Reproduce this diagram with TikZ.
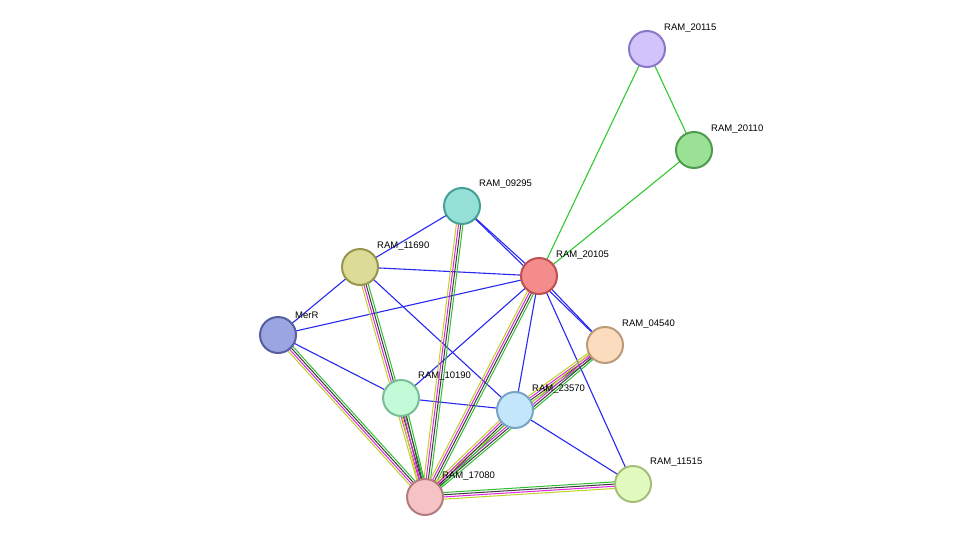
\documentclass[tikz,border=0pt]{standalone}
\usepackage{fontspec}
\setmainfont{Liberation Sans}
\usetikzlibrary{calc}
\begin{document}
\begin{tikzpicture}[x=1pt,y=-1pt,
  prot/.style={circle,minimum size=36pt,inner sep=0pt,line width=2pt},
  lab/.style={font=\fontsize{9.5}{11}\selectfont,anchor=south west,inner sep=1pt},
  bl/.style={draw={rgb,255:red,40;green,40;blue,240},line width=1.1pt},
  gr/.style={draw={rgb,255:red,50;green,200;blue,50},line width=1.1pt}]
\useasboundingbox[fill=white] (0,0) rectangle (976,543);
\newcommand\mline[2]{%
  \foreach \o/\c in {-3.3pt/{rgb,255:red,190;green,210;blue,40},-1.1pt/{rgb,255:red,220;green,40;blue,220},1.1pt/{rgb,255:red,60;green,60;blue,60},3.3pt/{rgb,255:red,50;green,190;blue,50}}{
    \draw[draw=\c,line width=1pt] ($(#1)!\o!90:(#2)$) -- ($(#2)!\o!-90:(#1)$);}}
\coordinate (p20115) at (647,49);
\coordinate (p20110) at (694,150);
\coordinate (p09295) at (462,206);
\coordinate (p11690) at (360,267);
\coordinate (p20105) at (539,276);
\coordinate (pMerR) at (278,335);
\coordinate (p04540) at (605,345);
\coordinate (p10190) at (401,398);
\coordinate (p23570) at (515,410);
\coordinate (p17080) at (425,497);
\coordinate (p11515) at (633,484);
% edges
\draw[gr] (p20115)--(p20105); \draw[gr] (p20115)--(p20110); \draw[gr] (p20110)--(p20105);
\foreach \a/\b in {09295/11690,09295/20105,09295/04540,11690/20105,11690/MerR,11690/23570,MerR/20105,MerR/10190,20105/10190,20105/23570,20105/04540,20105/11515,10190/23570,23570/11515}
  \draw[bl] (p\a)--(p\b);
\mline{p09295}{p17080}
\mline{p11690}{p17080}
\mline{pMerR}{p17080}
\mline{p20105}{p17080}
\mline{p04540}{p23570}
\mline{p04540}{p17080}
\mline{p10190}{p17080}
\mline{p23570}{p17080}
\mline{p17080}{p11515}
% nodes
\node[prot,fill={rgb,255:red,210;green,195;blue,250},draw={rgb,255:red,140;green,120;blue,200}] (n20115) at (p20115) {};
\node[prot,fill={rgb,255:red,155;green,225;blue,150},draw={rgb,255:red,80;green,155;blue,80}] (n20110) at (p20110) {};
\node[prot,fill={rgb,255:red,150;green,225;blue,215},draw={rgb,255:red,70;green,160;blue,150}] (n09295) at (p09295) {};
\node[prot,fill={rgb,255:red,220;green,220;blue,150},draw={rgb,255:red,150;green,150;blue,80}] (n11690) at (p11690) {};
\node[prot,fill={rgb,255:red,245;green,140;blue,140},draw={rgb,255:red,190;green,80;blue,80}] (n20105) at (p20105) {};
\node[prot,fill={rgb,255:red,155;green,165;blue,225},draw={rgb,255:red,85;green,95;blue,160}] (nMerR) at (pMerR) {};
\node[prot,fill={rgb,255:red,252;green,220;blue,190},draw={rgb,255:red,190;green,155;blue,120}] (n04540) at (p04540) {};
\node[prot,fill={rgb,255:red,195;green,250;blue,215},draw={rgb,255:red,120;green,190;blue,150}] (n10190) at (p10190) {};
\node[prot,fill={rgb,255:red,195;green,230;blue,250},draw={rgb,255:red,120;green,165;blue,195}] (n23570) at (p23570) {};
\node[prot,fill={rgb,255:red,245;green,195;blue,195},draw={rgb,255:red,180;green,125;blue,125}] (n17080) at (p17080) {};
\node[prot,fill={rgb,255:red,225;green,250;blue,190},draw={rgb,255:red,165;green,190;blue,120}] (n11515) at (p11515) {};
% labels
\node[lab] (l20115) at (663,34) {RAM\_20115};
\node[lab] (l20110) at (710,135) {RAM\_20110};
\node[lab] (l09295) at (478,190) {RAM\_09295};
\node[lab] (l11690) at (376,252) {RAM\_11690};
\node[lab] (l20105) at (555,261) {RAM\_20105};
\node[lab] (lMerR) at (294,320) {MerR};
\node[lab] (l04540) at (621,330) {RAM\_04540};
\node[lab] (l10190) at (417,382) {RAM\_10190};
\node[lab] (l23570) at (531,395) {RAM\_23570};
\node[lab] (l17080) at (441,482) {RAM\_17080};
\node[lab] (l11515) at (649,468) {RAM\_11515};
\end{tikzpicture}
\end{document}
